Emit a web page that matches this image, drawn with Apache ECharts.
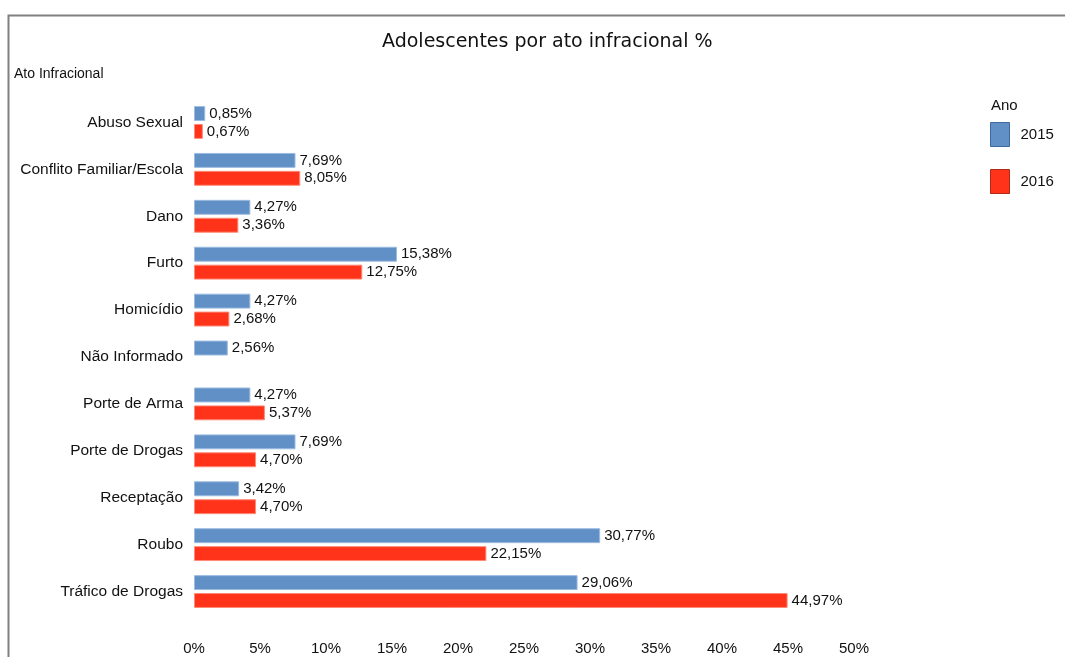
<!DOCTYPE html>
<html>
<head>
<meta charset="utf-8">
<script src="https://cdn.jsdelivr.net/npm/echarts@6/dist/echarts.min.js"></script>
<style>
  html, body { margin: 0; padding: 0; background: #fff; }
  #chart { width: 1065px; height: 657px; }
</style>
</head>
<body>
<div id="chart"></div>
<script>
// Adolescentes por ato infracional (%), 2015 x 2016
var categories = [
  'Abuso Sexual', 'Conflito Familiar/Escola', 'Dano', 'Furto', 'Homicídio',
  'Não Informado', 'Porte de Arma', 'Porte de Drogas', 'Receptação', 'Roubo',
  'Tráfico de Drogas'
];
var values2015 = [0.85, 7.69, 4.27, 15.38, 4.27, 2.56, 4.27, 7.69, 3.42, 30.77, 29.06];
var values2016 = [0.67, 8.05, 3.36, 12.75, 2.68, null, 5.37, 4.70, 4.70, 22.15, 44.97];
var seriesNames = ['2015', '2016'];
var xTicks = [0, 5, 10, 15, 20, 25, 30, 35, 40, 45, 50];

var narrow = '"Liberation Sans Narrow", "Arial Narrow", "Liberation Sans", Arial, sans-serif';

function pct(v) {
  return v.toFixed(2).replace('.', ',') + '%';
}

var chart = echarts.init(document.getElementById('chart'), null, { renderer: 'canvas' });

chart.setOption({
  backgroundColor: '#ffffff',
  animation: false,
  title: {
    text: 'Adolescentes por ato infracional %',
    left: 377,
    top: 28,
    textStyle: {
      fontFamily: '"DejaVu Sans", Verdana, sans-serif',
      fontSize: 19,
      fontWeight: 'normal',
      color: '#111'
    }
  },
  legend: {
    orient: 'vertical',
    left: 990,
    top: 122,
    padding: 0,
    icon: 'rect',
    itemWidth: 19,
    itemHeight: 24,
    itemGap: 22,
    data: [
      { name: seriesNames[0], itemStyle: { borderColor: '#3f6a9c', borderWidth: 1 } },
      { name: seriesNames[1], itemStyle: { borderColor: '#b02a18', borderWidth: 1 } }
    ],
    textStyle: { fontFamily: narrow, fontSize: 15, color: '#111', padding: [0, 0, 0, 6] }
  },
  graphic: [
    {
      type: 'polyline',
      shape: { points: [[8.5, 657], [8.5, 15.5], [1065, 15.5]] },
      style: { stroke: '#808080', lineWidth: 2, fill: null }
    },
    {
      type: 'text', left: 14, top: 67,
      style: { text: 'Ato Infracional', font: '14px ' + narrow, fill: '#111' }
    },
    {
      type: 'text', left: 991, top: 98,
      style: { text: 'Ano', font: '15px ' + narrow, fill: '#111' }
    }
  ],
  grid: { left: 194, width: 660, top: 99, height: 516, containLabel: false },
  xAxis: {
    type: 'value',
    min: xTicks[0],
    max: xTicks[xTicks.length - 1],
    interval: 5,
    axisLine: { show: false },
    axisTick: { show: false },
    splitLine: { show: false },
    axisLabel: {
      margin: 26,
      fontFamily: narrow,
      fontSize: 15,
      color: '#111',
      formatter: function (v) { return v + '%'; }
    }
  },
  yAxis: {
    type: 'category',
    inverse: true,
    data: categories,
    axisLine: { show: false },
    axisTick: { show: false },
    axisLabel: {
      margin: 11, fontFamily: narrow, fontSize: 15.5, color: '#111',
      padding: [6, 0, 0, 0]
    }
  },
  series: [
    {
      name: seriesNames[0],
      type: 'bar',
      data: values2015,
      barGap: '20%',
      barCategoryGap: '30%',
      itemStyle: { color: '#6190c6', borderColor: '#9bbbe0', borderWidth: 1 },
      label: {
        show: true, position: 'right', distance: 4,
        fontFamily: narrow, fontSize: 15, color: '#111',
        formatter: function (p) { return pct(p.value); }
      }
    },
    {
      name: seriesNames[1],
      type: 'bar',
      data: values2016,
      barGap: '20%',
      barCategoryGap: '30%',
      itemStyle: { color: '#ff3319', borderColor: '#ff8a78', borderWidth: 1 },
      label: {
        show: true, position: 'right', distance: 4,
        fontFamily: narrow, fontSize: 15, color: '#111',
        formatter: function (p) { return pct(p.value); }
      }
    }
  ]
});
</script>
</body>
</html>
